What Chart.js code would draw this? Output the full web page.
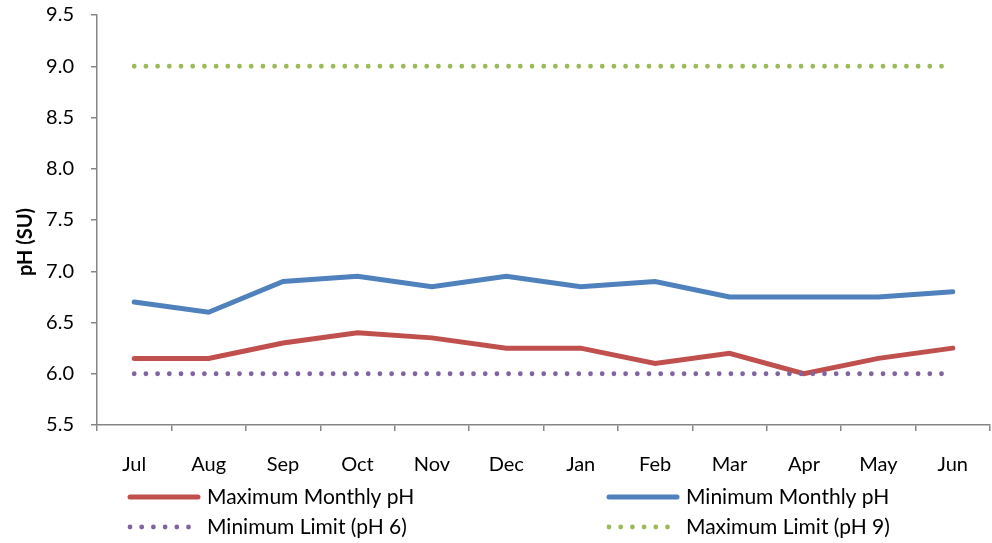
<!DOCTYPE html>
<html>
<head>
<meta charset="utf-8">
<script src="https://cdn.jsdelivr.net/npm/chart.js@4.4.0/dist/chart.umd.min.js"></script>
<style>
    html, body { margin: 0; padding: 0; background: #fff; }
    #wrap { width: 992px; height: 543px; position: relative; }
</style>
</head>
<body>
<div id="wrap"><canvas id="phChart" width="992" height="543"></canvas></div>
<script>
const months = ['Jul', 'Aug', 'Sep', 'Oct', 'Nov', 'Dec', 'Jan', 'Feb', 'Mar', 'Apr', 'May', 'Jun'];
const maxMonthly = [6.15, 6.15, 6.3, 6.4, 6.35, 6.25, 6.25, 6.1, 6.2, 6.0, 6.15, 6.25];
const minMonthly = [6.7, 6.6, 6.9, 6.95, 6.85, 6.95, 6.85, 6.9, 6.75, 6.75, 6.75, 6.8];
const minLimit = [6, 6, 6, 6, 6, 6, 6, 6, 6, 6, 6, 6];
const maxLimit = [9, 9, 9, 9, 9, 9, 9, 9, 9, 9, 9, 9];
const yTicks = [5.5, 6.0, 6.5, 7.0, 7.5, 8.0, 8.5, 9.0, 9.5];
const yTitle = 'pH (SU)';

const FONT = 'Lato';
const AXIS = '#868686';

function solid(label, data, color, order) {
    return { label, data, borderColor: color, backgroundColor: color, borderWidth: 5,
        borderCapStyle: 'round', pointRadius: 0, tension: 0, order };
}
function dotted(label, data, color, order) {
    return { label, data, borderColor: color, backgroundColor: color, borderWidth: 4.8,
        borderDash: [0, 11.7], borderCapStyle: 'round', pointRadius: 0, tension: 0, order, dotted: true };
}

// axis title + legend in two columns under the axis
const extrasPlugin = {
    id: 'extras',
    afterDraw(chart) {
        const ctx = chart.ctx;

        ctx.save();
        ctx.translate(26, 242);
        ctx.rotate(-Math.PI / 2);
        ctx.fillStyle = '#000';
        ctx.font = 'bold 20px "' + FONT + '"';
        ctx.textAlign = 'center';
        ctx.textBaseline = 'middle';
        ctx.fillText(yTitle, 0, 0);
        ctx.restore();

        const slots = [[128, 497], [607, 497], [128, 527], [607, 527]];
        chart.data.datasets.forEach((ds, i) => {
            const [x, y] = slots[i];
            ctx.save();
            ctx.strokeStyle = ds.borderColor;
            ctx.lineCap = 'round';
            if (ds.dotted) {
                ctx.lineWidth = 4.8;
                ctx.setLineDash([0, 11.7]);
                ctx.beginPath(); ctx.moveTo(x + 2, y); ctx.lineTo(x + 62, y); ctx.stroke();
            } else {
                ctx.lineWidth = 5;
                ctx.beginPath(); ctx.moveTo(x + 2, y); ctx.lineTo(x + 70, y); ctx.stroke();
            }
            ctx.restore();
            ctx.save();
            ctx.fillStyle = '#000';
            ctx.font = '21px "' + FONT + '"';
            ctx.textBaseline = 'middle';
            ctx.fillText(ds.label, x + 79, y);
            ctx.restore();
        });
    }
};

new Chart(document.getElementById('phChart'), {
    type: 'line',
    data: {
        labels: months,
        datasets: [
            solid('Maximum Monthly pH', maxMonthly, '#C0504D', 3),
            solid('Minimum Monthly pH', minMonthly, '#4F81BD', 2),
            dotted('Minimum Limit (pH 6)', minLimit, '#8064A2', 1),
            dotted('Maximum Limit (pH 9)', maxLimit, '#9BBB59', 0)
        ]
    },
    plugins: [extrasPlugin],
    options: {
        responsive: false,
        animation: false,
        layout: { autoPadding: false, padding: { left: 0, right: 2, top: 15, bottom: 0 } },
        plugins: { legend: { display: false }, tooltip: { enabled: false } },
        scales: {
            x: {
                offset: true,
                grid: { offset: true, drawOnChartArea: false, drawTicks: true, tickLength: 6, color: AXIS, lineWidth: 1.5 },
                border: { color: AXIS, width: 1.5 },
                ticks: { color: '#000', font: { family: FONT, size: 20 }, padding: 22, maxRotation: 0 },
                afterFit: s => { s.height = 118; s.paddingLeft = 0; s.paddingRight = 0; }
            },
            y: {
                min: 5.5, max: 9.5,
                afterBuildTicks: s => { s.ticks = yTicks.map(v => ({ value: v })); },
                grid: { drawOnChartArea: false, drawTicks: true, tickLength: 6, color: AXIS, lineWidth: 1.5 },
                border: { color: AXIS, width: 1.5 },
                ticks: { color: '#000', font: { family: FONT, size: 20 }, padding: 17, callback: v => v.toFixed(1) },
                afterFit: s => { s.width = 97; s.paddingTop = 0; s.paddingBottom = 0; }
            }
        }
    }
});
</script>
</body>
</html>
